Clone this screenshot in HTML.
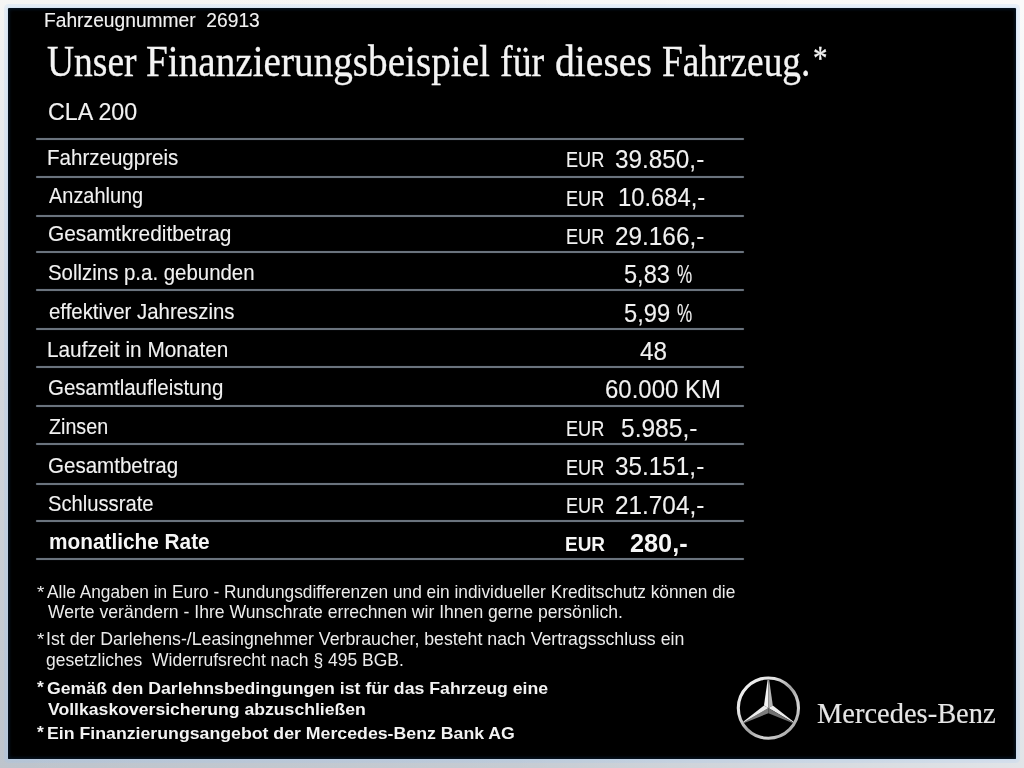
<!DOCTYPE html>
<html lang="de"><head><meta charset="utf-8"><title>Finanzierungsbeispiel</title>
<style>
html,body{margin:0;padding:0}
body{width:1024px;height:768px;overflow:hidden;position:relative;
background:linear-gradient(to right,rgba(255,255,255,0) 0%,rgba(255,255,255,.12) 50%,rgba(255,255,255,.55) 100%),
linear-gradient(to bottom,#f5f5f4 0%,#eceef0 10%,#d3d7de 50%,#bdc4cc 100%);
font-family:"Liberation Sans",sans-serif}
#panel{position:absolute;left:8px;top:7.8px;width:1007.8px;height:751.7px;background:#000;border-radius:1.5px;
box-shadow:0 0 0 4px rgba(150,200,255,.16),0 0 1.5px 1px rgba(185,210,240,.35),inset 0 0 2.5px 1.5px #06131f,inset 0 0 6px #020a14}
.t{position:absolute;white-space:pre;transform-origin:0 50%;display:block;filter:blur(.4px)}
.r{position:absolute;left:35.8px;width:708px;height:2px;background:#6a737d;border-radius:1px;
box-shadow:0 0 1px #3a4250}
#logo{position:absolute;left:728px;top:668px;width:80px;height:80px}
#fznr{left:43.66px;top:11.13px;font:400 19.33px/1 "Liberation Sans", sans-serif;color:#f1f1f1;transform:scaleX(0.9944);-webkit-text-stroke:.12px #f1f1f1;}
#ti0{left:46.95px;top:38.65px;font:400 45.20px/1 "Liberation Serif", serif;color:#f4f4f4;transform:scaleX(0.8304);-webkit-text-stroke:.32px #f4f4f4;}
#ti1{left:145.94px;top:38.65px;font:400 45.20px/1 "Liberation Serif", serif;color:#f4f4f4;transform:scaleX(0.8675);-webkit-text-stroke:.32px #f4f4f4;}
#ti2{left:499.89px;top:38.65px;font:400 45.20px/1 "Liberation Serif", serif;color:#f4f4f4;transform:scaleX(0.8401);-webkit-text-stroke:.32px #f4f4f4;}
#ti3{left:554.71px;top:38.65px;font:400 45.20px/1 "Liberation Serif", serif;color:#f4f4f4;transform:scaleX(0.8770);-webkit-text-stroke:.32px #f4f4f4;}
#ti4{left:661.82px;top:38.65px;font:400 45.20px/1 "Liberation Serif", serif;color:#f4f4f4;transform:scaleX(0.8267);-webkit-text-stroke:.32px #f4f4f4;}
#tstar{left:812.58px;top:40.30px;font:400 34.51px/1 "Liberation Serif", serif;color:#f4f4f4;transform:scaleX(0.8405);-webkit-text-stroke:.32px #f4f4f4;}
#model{left:47.86px;top:100.81px;font:400 23.26px/1 "Liberation Sans", sans-serif;color:#f1f1f1;transform:scaleX(0.9999);-webkit-text-stroke:.12px #f1f1f1;}
#lab0{left:47.41px;top:148.16px;font:400 21.37px/1 "Liberation Sans", sans-serif;color:#f1f1f1;transform:scaleX(0.9616);-webkit-text-stroke:.12px #f1f1f1;}
#lab1{left:48.85px;top:186.31px;font:400 21.37px/1 "Liberation Sans", sans-serif;color:#f1f1f1;transform:scaleX(0.9331);-webkit-text-stroke:.12px #f1f1f1;}
#lab2{left:48.22px;top:224.16px;font:400 21.37px/1 "Liberation Sans", sans-serif;color:#f1f1f1;transform:scaleX(0.9781);-webkit-text-stroke:.12px #f1f1f1;}
#lab3{left:48.11px;top:263.11px;font:400 21.37px/1 "Liberation Sans", sans-serif;color:#f1f1f1;transform:scaleX(0.9557);-webkit-text-stroke:.12px #f1f1f1;}
#lab4{left:48.55px;top:301.66px;font:400 21.37px/1 "Liberation Sans", sans-serif;color:#f1f1f1;transform:scaleX(0.9547);-webkit-text-stroke:.12px #f1f1f1;}
#lab5{left:47.33px;top:339.91px;font:400 21.37px/1 "Liberation Sans", sans-serif;color:#f1f1f1;transform:scaleX(0.9723);-webkit-text-stroke:.12px #f1f1f1;}
#lab6{left:48.29px;top:378.16px;font:400 21.37px/1 "Liberation Sans", sans-serif;color:#f1f1f1;transform:scaleX(0.9586);-webkit-text-stroke:.12px #f1f1f1;}
#lab7{left:48.61px;top:416.71px;font:400 21.37px/1 "Liberation Sans", sans-serif;color:#f1f1f1;transform:scaleX(0.9214);-webkit-text-stroke:.12px #f1f1f1;}
#lab8{left:48.28px;top:455.66px;font:400 21.37px/1 "Liberation Sans", sans-serif;color:#f1f1f1;transform:scaleX(0.9616);-webkit-text-stroke:.12px #f1f1f1;}
#lab9{left:48.15px;top:493.51px;font:400 21.37px/1 "Liberation Sans", sans-serif;color:#f1f1f1;transform:scaleX(0.9455);-webkit-text-stroke:.12px #f1f1f1;}
#lab10{left:48.60px;top:531.23px;font:700 21.22px/1 "Liberation Sans", sans-serif;color:#f6f6f6;transform:scaleX(0.9804);}
#val0{left:615.40px;top:146.51px;font:400 25.15px/1 "Liberation Sans", sans-serif;color:#f1f1f1;transform:scaleX(0.9672);-webkit-text-stroke:.12px #f1f1f1;}
#eur0{left:566.26px;top:149.03px;font:400 21.22px/1 "Liberation Sans", sans-serif;color:#f1f1f1;transform:scaleX(0.8545);-webkit-text-stroke:.12px #f1f1f1;}
#val1{left:618.33px;top:184.91px;font:400 25.15px/1 "Liberation Sans", sans-serif;color:#f1f1f1;transform:scaleX(0.9459);-webkit-text-stroke:.12px #f1f1f1;}
#eur1{left:566.26px;top:187.83px;font:400 21.22px/1 "Liberation Sans", sans-serif;color:#f1f1f1;transform:scaleX(0.8545);-webkit-text-stroke:.12px #f1f1f1;}
#val2{left:615.34px;top:223.71px;font:400 25.15px/1 "Liberation Sans", sans-serif;color:#f1f1f1;transform:scaleX(0.9679);-webkit-text-stroke:.12px #f1f1f1;}
#eur2{left:566.26px;top:226.23px;font:400 21.22px/1 "Liberation Sans", sans-serif;color:#f1f1f1;transform:scaleX(0.8545);-webkit-text-stroke:.12px #f1f1f1;}
#val3{left:623.71px;top:261.71px;font:400 25.15px/1 "Liberation Sans", sans-serif;color:#f1f1f1;transform:scaleX(0.9382);-webkit-text-stroke:.12px #f1f1f1;}
#pct3{left:676.99px;top:261.71px;font:400 25.15px/1 "Liberation Sans", sans-serif;color:#f1f1f1;transform:scaleX(0.6773);-webkit-text-stroke:.12px #f1f1f1;}
#val4{left:623.71px;top:300.71px;font:400 25.15px/1 "Liberation Sans", sans-serif;color:#f1f1f1;transform:scaleX(0.9419);-webkit-text-stroke:.12px #f1f1f1;}
#pct4{left:676.99px;top:300.71px;font:400 25.15px/1 "Liberation Sans", sans-serif;color:#f1f1f1;transform:scaleX(0.6773);-webkit-text-stroke:.12px #f1f1f1;}
#val5{left:640.25px;top:338.51px;font:400 25.15px/1 "Liberation Sans", sans-serif;color:#f1f1f1;transform:scaleX(0.9659);-webkit-text-stroke:.12px #f1f1f1;}
#val6{left:605.31px;top:376.91px;font:400 25.15px/1 "Liberation Sans", sans-serif;color:#f1f1f1;transform:scaleX(0.9531);-webkit-text-stroke:.12px #f1f1f1;}
#val7{left:621.21px;top:415.71px;font:400 25.15px/1 "Liberation Sans", sans-serif;color:#f1f1f1;transform:scaleX(0.9764);-webkit-text-stroke:.12px #f1f1f1;}
#eur7{left:566.26px;top:418.23px;font:400 21.22px/1 "Liberation Sans", sans-serif;color:#f1f1f1;transform:scaleX(0.8545);-webkit-text-stroke:.12px #f1f1f1;}
#val8{left:615.40px;top:453.71px;font:400 25.15px/1 "Liberation Sans", sans-serif;color:#f1f1f1;transform:scaleX(0.9672);-webkit-text-stroke:.12px #f1f1f1;}
#eur8{left:566.26px;top:457.03px;font:400 21.22px/1 "Liberation Sans", sans-serif;color:#f1f1f1;transform:scaleX(0.8545);-webkit-text-stroke:.12px #f1f1f1;}
#val9{left:615.34px;top:492.71px;font:400 25.15px/1 "Liberation Sans", sans-serif;color:#f1f1f1;transform:scaleX(0.9679);-webkit-text-stroke:.12px #f1f1f1;}
#eur9{left:566.26px;top:495.03px;font:400 21.22px/1 "Liberation Sans", sans-serif;color:#f1f1f1;transform:scaleX(0.8545);-webkit-text-stroke:.12px #f1f1f1;}
#eur10{left:564.61px;top:533.46px;font:700 21.08px/1 "Liberation Sans", sans-serif;color:#f6f6f6;transform:scaleX(0.9001);}
#val10{left:629.71px;top:531.76px;font:700 24.85px/1 "Liberation Sans", sans-serif;color:#f6f6f6;transform:scaleX(1.0168);}
#fn0{left:47.27px;top:583.83px;font:400 17.44px/1 "Liberation Sans", sans-serif;color:#ececec;transform:scaleX(0.9921);}
#st0{left:36.68px;top:584.96px;font:400 15.99px/1 "Liberation Sans", sans-serif;color:#ececec;transform:scaleX(1.1813);}
#fn1{left:48.27px;top:604.23px;font:400 17.44px/1 "Liberation Sans", sans-serif;color:#ececec;transform:scaleX(1.0082);}
#fn2{left:46.44px;top:630.83px;font:400 17.44px/1 "Liberation Sans", sans-serif;color:#ececec;transform:scaleX(1.0162);}
#st2{left:36.68px;top:631.96px;font:400 15.99px/1 "Liberation Sans", sans-serif;color:#ececec;transform:scaleX(1.1813);}
#fn3{left:46.14px;top:651.83px;font:400 17.44px/1 "Liberation Sans", sans-serif;color:#ececec;transform:scaleX(1.0034);}
#fn4{left:46.73px;top:680.85px;font:700 16.72px/1 "Liberation Sans", sans-serif;color:#f3f3f3;transform:scaleX(1.0588);}
#st4{left:36.65px;top:679.76px;font:700 15.99px/1 "Liberation Sans", sans-serif;color:#f3f3f3;transform:scaleX(1.0879);}
#fn5{left:47.96px;top:702.25px;font:700 16.72px/1 "Liberation Sans", sans-serif;color:#f3f3f3;transform:scaleX(1.0546);}
#fn6{left:47.12px;top:725.85px;font:700 16.72px/1 "Liberation Sans", sans-serif;color:#f3f3f3;transform:scaleX(1.0606);}
#st6{left:36.65px;top:724.96px;font:700 15.99px/1 "Liberation Sans", sans-serif;color:#f3f3f3;transform:scaleX(1.0879);}
#mb{left:817.22px;top:699.06px;font:400 28.71px/1 "Liberation Serif", serif;color:#e6e6e6;transform:scaleX(0.9918);-webkit-text-stroke:.15px #e6e6e6;}
</style></head><body>
<div id="panel"></div>
<i class="r" style="top:137.50px"></i><i class="r" style="top:176.00px"></i><i class="r" style="top:214.50px"></i><i class="r" style="top:251.40px"></i><i class="r" style="top:289.40px"></i><i class="r" style="top:328.00px"></i><i class="r" style="top:366.25px"></i><i class="r" style="top:404.60px"></i><i class="r" style="top:443.10px"></i><i class="r" style="top:483.00px"></i><i class="r" style="top:520.00px"></i><i class="r" style="top:558.40px"></i>
<span class="t" id="fznr">Fahrzeugnummer&nbsp;&nbsp;26913</span>
<span class="t" id="ti0">Unser</span>
<span class="t" id="ti1">Finanzierungsbeispiel</span>
<span class="t" id="ti2">für</span>
<span class="t" id="ti3">dieses</span>
<span class="t" id="ti4">Fahrzeug.</span>
<span class="t" id="tstar">*</span>
<span class="t" id="model">CLA 200</span>
<span class="t" id="lab0">Fahrzeugpreis</span>
<span class="t" id="lab1">Anzahlung</span>
<span class="t" id="lab2">Gesamtkreditbetrag</span>
<span class="t" id="lab3">Sollzins p.a. gebunden</span>
<span class="t" id="lab4">effektiver Jahreszins</span>
<span class="t" id="lab5">Laufzeit in Monaten</span>
<span class="t" id="lab6">Gesamtlaufleistung</span>
<span class="t" id="lab7">Zinsen</span>
<span class="t" id="lab8">Gesamtbetrag</span>
<span class="t" id="lab9">Schlussrate</span>
<span class="t" id="lab10">monatliche Rate</span>
<span class="t" id="val0">39.850,-</span>
<span class="t" id="eur0">EUR</span>
<span class="t" id="val1">10.684,-</span>
<span class="t" id="eur1">EUR</span>
<span class="t" id="val2">29.166,-</span>
<span class="t" id="eur2">EUR</span>
<span class="t" id="val3">5,83</span>
<span class="t" id="pct3">%</span>
<span class="t" id="val4">5,99</span>
<span class="t" id="pct4">%</span>
<span class="t" id="val5">48</span>
<span class="t" id="val6">60.000 KM</span>
<span class="t" id="val7">5.985,-</span>
<span class="t" id="eur7">EUR</span>
<span class="t" id="val8">35.151,-</span>
<span class="t" id="eur8">EUR</span>
<span class="t" id="val9">21.704,-</span>
<span class="t" id="eur9">EUR</span>
<span class="t" id="eur10">EUR</span>
<span class="t" id="val10">280,-</span>
<span class="t" id="fn0">Alle Angaben in Euro - Rundungsdifferenzen und ein individueller Kreditschutz können die</span>
<span class="t" id="st0">*</span>
<span class="t" id="fn1">Werte verändern - Ihre Wunschrate errechnen wir Ihnen gerne persönlich.</span>
<span class="t" id="fn2">Ist der Darlehens-/Leasingnehmer Verbraucher, besteht nach Vertragsschluss ein</span>
<span class="t" id="st2">*</span>
<span class="t" id="fn3">gesetzliches&nbsp;&nbsp;Widerrufsrecht nach § 495 BGB.</span>
<span class="t" id="fn4">Gemäß den Darlehnsbedingungen ist für das Fahrzeug eine</span>
<span class="t" id="st4">*</span>
<span class="t" id="fn5">Vollkaskoversicherung abzuschließen</span>
<span class="t" id="fn6">Ein Finanzierungsangebot der Mercedes-Benz Bank AG</span>
<span class="t" id="st6">*</span>
<span class="t" id="mb">Mercedes-Benz</span>
<svg id="logo" viewBox="0 0 80 80">
<defs>
<linearGradient id="rg" x1="0" y1="0" x2="1" y2="1">
<stop offset="0" stop-color="#f6f6f6"/><stop offset=".3" stop-color="#e2e2e2"/><stop offset=".52" stop-color="#a2a2a2"/><stop offset=".72" stop-color="#d4d4d4"/><stop offset="1" stop-color="#8a8a8a"/>
</linearGradient>
<filter id="bl" x="-10%" y="-10%" width="120%" height="120%"><feGaussianBlur stdDeviation=".4"/></filter>
</defs>
<g filter="url(#bl)">
<circle cx="40.40" cy="40.10" r="30.1" fill="none" stroke="url(#rg)" stroke-width="3.1"/>
<polygon points="40.40,40.10 35.98,37.55 39.65,11.80 40.40,11.80" fill="#f4f4f4"/>
<polygon points="40.40,40.10 44.82,37.55 41.15,11.80 40.40,11.80" fill="#b4b4b4"/>
<polygon points="40.40,40.10 44.82,37.55 65.28,53.60 64.91,54.25" fill="#ededed"/>
<polygon points="40.40,40.10 40.40,45.20 64.53,54.90 64.91,54.25" fill="#6f6f6f"/>
<polygon points="40.40,40.10 40.40,45.20 16.27,54.90 15.89,54.25" fill="#7c7c7c"/>
<polygon points="40.40,40.10 35.98,37.55 15.52,53.60 15.89,54.25" fill="#ececec"/>
</g>
</svg>
</body></html>
